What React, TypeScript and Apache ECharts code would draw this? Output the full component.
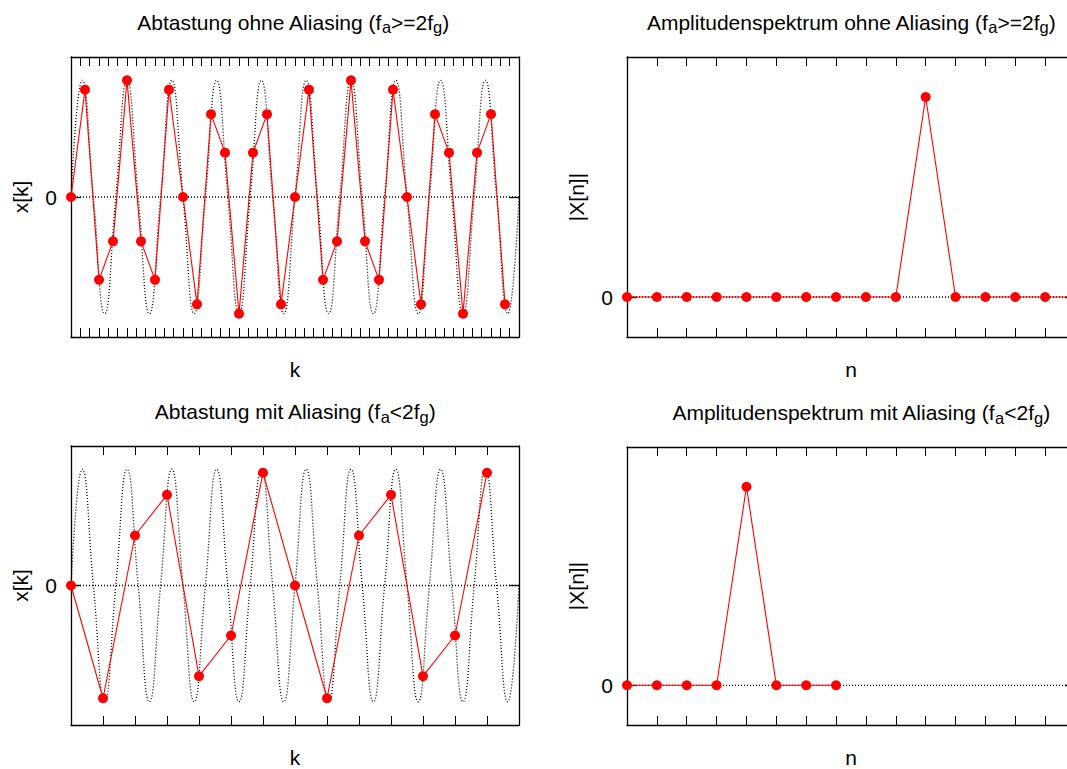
import React, { useEffect, useRef } from "react";
import * as echarts from "echarts";

// Sampled values x[k] without aliasing (k = 0..31)
const samplesNoAlias = [
  0, 0.92, -0.71, -0.38, 1, -0.38, -0.71, 0.92, 0, -0.92, 0.71, 0.38, -1, 0.38, 0.71, -0.92,
  0, 0.92, -0.71, -0.38, 1, -0.38, -0.71, 0.92, 0, -0.92, 0.71, 0.38, -1, 0.38, 0.71, -0.92,
];
// Sampled values x[k] with aliasing (k = 0..13)
const samplesAlias = [0, -0.97, 0.43, 0.78, -0.78, -0.43, 0.97, 0, -0.97, 0.43, 0.78, -0.78, -0.43, 0.97];
// Amplitude spectra |X[n]|
const spectrumNoAlias = [0, 0, 0, 0, 0, 0, 0, 0, 0, 0, 1, 0, 0, 0, 0, 0];
const spectrumAlias = [0, 0, 0, 0, 1, 0, 0, 0];
// Analog reference signal: number of periods in the window and the extrema of one period
const analogCycles = 10;
const analogCycleShape = [0, 1, 0, -1];
// Axis spans (tick units)
const timeSpanNoAlias = 48; // 48 ticks, one sample every 1.5 ticks
const sampleStepNoAlias = 1.5;
const timeSpanAlias = 14;
const sampleStepAlias = 1;
const freqSpan = 15;

const FONT = '"Liberation Sans", Arial, Helvetica, sans-serif';
const FS = 21;

function analogCurve(span: number) {
  const steps = analogCycles * analogCycleShape.length;
  const pts: number[][] = [];
  for (let i = 0; i <= steps; i++) pts.push([(span * i) / steps, analogCycleShape[i % analogCycleShape.length]]);
  return pts;
}

function sampled(values: number[], step: number) {
  return values.map((v, i) => [i * step, v]);
}

const grids = [
  { left: 71, top: 57, width: 448, height: 280 },
  { left: 627, top: 57, width: 448, height: 280 },
  { left: 71, top: 446, width: 448, height: 281 },
  { left: 627, top: 447, width: 448, height: 280 },
];

const panels = [
  { xMax: timeSpanNoAlias, yMin: -1.2, yMax: 1.2, xName: "k", yName: "x[k]" },
  { xMax: freqSpan, yMin: -0.2, yMax: 1.2, xName: "n", yName: "|X[n]|" },
  { xMax: timeSpanAlias, yMin: -1.2, yMax: 1.2, xName: "k", yName: "x[k]" },
  { xMax: freqSpan, yMin: -0.2, yMax: 1.2, xName: "n", yName: "|X[n]|" },
];

const titles = [
  { x: 293, y: 22.3, parts: ["Abtastung ohne Aliasing (f", "a", ">=2f", "g", ")"] },
  { x: 851, y: 22.3, parts: ["Amplitudenspektrum ohne Aliasing (f", "a", ">=2f", "g", ")"] },
  { x: 295, y: 411.6, parts: ["Abtastung mit Aliasing (f", "a", "<2f", "g", ")"] },
  { x: 861, y: 412.6, parts: ["Amplitudenspektrum mit Aliasing (f", "a", "<2f", "g", ")"] },
];

const black = "#000";
const red = "#ff0000";

function buildOption() {
  const xAxis: any[] = [];
  const yAxis: any[] = [];
  const frame = { show: true, onZero: false, lineStyle: { color: black, width: 1.3 } };
  panels.forEach((p, i) => {
    const common = {
      type: "value",
      gridIndex: i,
      min: 0,
      max: p.xMax,
      interval: 1,
      axisLine: frame,
      axisTick: { show: true, inside: true, length: 9, lineStyle: { color: black, width: 1 } },
      axisLabel: { show: false },
      splitLine: { show: false },
    };
    xAxis.push({
      ...common,
      position: "bottom",
      name: p.xName,
      nameLocation: "middle",
      nameGap: 22,
      nameTextStyle: { fontSize: FS, color: black, fontFamily: FONT },
    });
    xAxis.push({ ...common, position: "top" });
    const yCommon = {
      type: "value",
      gridIndex: i,
      min: p.yMin,
      max: p.yMax,
      axisLine: frame,
      axisTick: { show: true, inside: true, length: 10, customValues: [0], lineStyle: { color: black, width: 1.3 } },
      splitLine: { show: false },
    };
    yAxis.push({
      ...yCommon,
      position: "left",
      axisLabel: { show: true, customValues: [0], margin: 14, fontSize: FS, color: black, fontFamily: FONT },
      name: p.yName,
      nameLocation: "middle",
      nameGap: 40,
      nameTextStyle: { fontSize: FS, color: black, fontFamily: FONT },
    });
    yAxis.push({ ...yCommon, position: "right", axisLabel: { show: false } });
  });

  const dotted = { color: black, width: 1.3, type: [1, 2] };
  const series: any[] = [];
  const addZero = (i: number) =>
    series.push({
      type: "line",
      xAxisIndex: 2 * i,
      yAxisIndex: 2 * i,
      data: [
        [0, 0],
        [panels[i].xMax, 0],
      ],
      symbol: "none",
      lineStyle: dotted,
      z: 1,
      silent: true,
    });
  const addAnalog = (i: number, span: number) =>
    series.push({
      type: "line",
      xAxisIndex: 2 * i,
      yAxisIndex: 2 * i,
      data: analogCurve(span),
      smooth: true,
      symbol: "none",
      lineStyle: dotted,
      z: 1,
      silent: true,
    });
  const addSamples = (i: number, data: number[][]) =>
    series.push({
      type: "line",
      xAxisIndex: 2 * i,
      yAxisIndex: 2 * i,
      data,
      symbol: "circle",
      symbolSize: 10,
      itemStyle: { color: red },
      lineStyle: { color: red, width: 1.1 },
      z: 3,
      silent: true,
    });

  addZero(0);
  addAnalog(0, timeSpanNoAlias);
  addSamples(0, sampled(samplesNoAlias, sampleStepNoAlias));
  addZero(1);
  addSamples(1, sampled(spectrumNoAlias, 1));
  addZero(2);
  addAnalog(2, timeSpanAlias);
  addSamples(2, sampled(samplesAlias, sampleStepAlias));
  addZero(3);
  addSamples(3, sampled(spectrumAlias, 1));

  const rich = {
    m: { fontSize: FS, lineHeight: 27, fontFamily: FONT, fill: black, color: black },
    s: { fontSize: 16.5, lineHeight: 16, verticalAlign: "bottom", fontFamily: FONT, fill: black, color: black },
  };
  const graphic = titles.map((t) => ({
    type: "text",
    x: t.x,
    y: t.y,
    style: {
      text: t.parts.map((s, j) => `{${j % 2 ? "s" : "m"}|${s}}`).join(""),
      rich,
      align: "center",
      verticalAlign: "middle",
      fill: black,
    },
  }));

  return {
    animation: false,
    backgroundColor: "#fff",
    grid: grids.map((g) => ({ ...g, containLabel: false })),
    xAxis,
    yAxis,
    series,
    graphic,
  };
}

export default function App() {
  const ref = useRef<HTMLDivElement>(null);
  useEffect(() => {
    if (!ref.current) return;
    const chart = echarts.init(ref.current, undefined, { renderer: "svg" });
    chart.setOption(buildOption() as any);
    return () => chart.dispose();
  }, []);
  return (
    <div
      style={{ position: "fixed", left: 0, top: 0, width: 1067, height: 769, overflow: "hidden", background: "#fff" }}
    >
      <div ref={ref} style={{ width: 1100, height: 769 }} />
    </div>
  );
}
